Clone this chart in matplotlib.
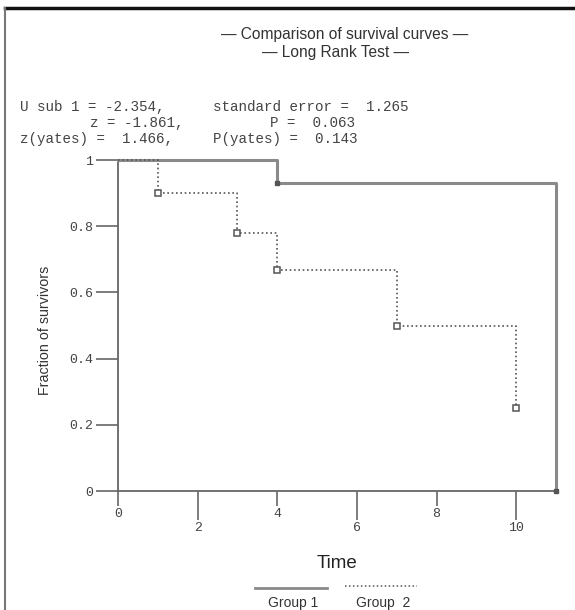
import matplotlib
matplotlib.use("Agg")
import matplotlib.pyplot as plt
from matplotlib.lines import Line2D

# ---- data ----
g1_time = [0, 4, 11]
g1_surv = [1.0, 0.93, 0.0]
g2_time = [0, 1, 3, 4, 7, 10]
g2_surv = [1.0, 0.9, 0.78, 0.667, 0.5, 0.25]
x_major = [0, 4, 8]
x_minor = [2, 6, 10]
y_ticks = [0, 0.2, 0.4, 0.6, 0.8, 1]
y_labels = ["0", "0.2", "0.4", "0.6", "0.8", "1"]
title_lines = ["\u2014 Comparison of survival curves \u2014", "\u2014 Long Rank Test \u2014"]
stats = [
    ("U sub 1 = -2.354,", 20, 107), ("standard error =  1.265", 213, 107),
    ("z = -1.861,", 90, 123), ("P =  0.063", 270, 123),
    ("z(yates) =  1.466,", 20, 139), ("P(yates) =  0.143", 213, 139),
]
legend_labels = ["Group 1", "Group  2"]

W, H = 575, 610
fig = plt.figure(figsize=(W / 100, H / 100), dpi=100)
fig.patch.set_facecolor("white")

def fx(px):
    return px / W

def fy(py):
    return 1 - py / H

ax = fig.add_axes([fx(118), fy(491), fx(556) - fx(118), fy(160) - fy(491)])
ax.set_xlim(0, 11)
ax.set_ylim(0, 1)
for s in ["top", "right"]:
    ax.spines[s].set_visible(False)
for s in ["left", "bottom"]:
    ax.spines[s].set_color("#666666")
    ax.spines[s].set_linewidth(1.3)

ax.plot(g1_time, g1_surv, drawstyle="steps-post", color="#8a8a8a", lw=2.2,
        clip_on=False, zorder=3, marker="s", ms=3.5, mfc="#555555", mec="#555555",
        markevery=slice(1, None))
ax.plot(g2_time, g2_surv, drawstyle="steps-post", color="#555555", lw=1.2,
        linestyle=(0, (1, 1.6)), clip_on=False, zorder=4, marker="s", ms=5,
        mfc="white", mec="#555555", mew=1.1, markevery=slice(1, None))

mono = "Liberation Mono"
ax.set_yticks(y_ticks)
ax.set_yticklabels(y_labels, fontfamily=mono, fontsize=9.5, color="#444444")
ax.tick_params(axis="y", direction="out", length=16, width=1.2, color="#666666", pad=2)

ax.set_xticks(x_major)
ax.set_xticklabels([str(v) for v in x_major], fontfamily=mono, fontsize=9.5, color="#444444")
ax.set_xticks(x_minor, minor=True)
ax.set_xticklabels([str(v) for v in x_minor], minor=True, fontfamily=mono, fontsize=9.5, color="#444444")
ax.tick_params(axis="x", which="major", direction="out", length=11, width=1.2, color="#666666", pad=1)
ax.tick_params(axis="x", which="minor", direction="out", length=21, width=1.2, color="#666666", pad=1)

sans = "Liberation Sans"
fig.text(fx(45), fy(330), "Fraction of survivors", rotation=90, ha="center", va="center",
         fontfamily=sans, fontsize=10.3, color="#333333")
fig.text(fx(337), fy(563), "Time", ha="center", va="center", fontfamily=sans,
         fontsize=13.5, color="#222222")

fig.text(fx(345), fy(34), title_lines[0], ha="center", va="center", fontfamily=sans,
         fontsize=11.2, color="#333333")
fig.text(fx(335), fy(52), title_lines[1], ha="center", va="center", fontfamily=sans,
         fontsize=11.2, color="#333333")

for txt, px, py in stats:
    fig.text(fx(px), fy(py), txt, ha="left", va="center", fontfamily=mono,
             fontsize=10.3, color="#444444")

# legend
fig.add_artist(Line2D([fx(255), fx(327)], [fy(588), fy(588)], color="#8a8a8a", lw=2.0,
                      transform=fig.transFigure))
fig.add_artist(Line2D([fx(345), fx(417)], [fy(586), fy(586)], color="#555555", lw=1.1,
                      linestyle=(0, (1, 1.6)), transform=fig.transFigure))
fig.text(fx(293), fy(603), legend_labels[0], ha="center", va="center", fontfamily=sans,
         fontsize=10, color="#333333")
fig.text(fx(383), fy(603), legend_labels[1], ha="center", va="center", fontfamily=sans,
         fontsize=10, color="#333333")

# page border
fig.add_artist(Line2D([fx(5), 1], [fy(8), fy(8)], color="#111111", lw=2.5,
                      transform=fig.transFigure))
fig.add_artist(Line2D([fx(5), fx(5)], [fy(8), 0], color="#777777", lw=1.5,
                      transform=fig.transFigure))

fig.savefig("out.png", dpi=100)
